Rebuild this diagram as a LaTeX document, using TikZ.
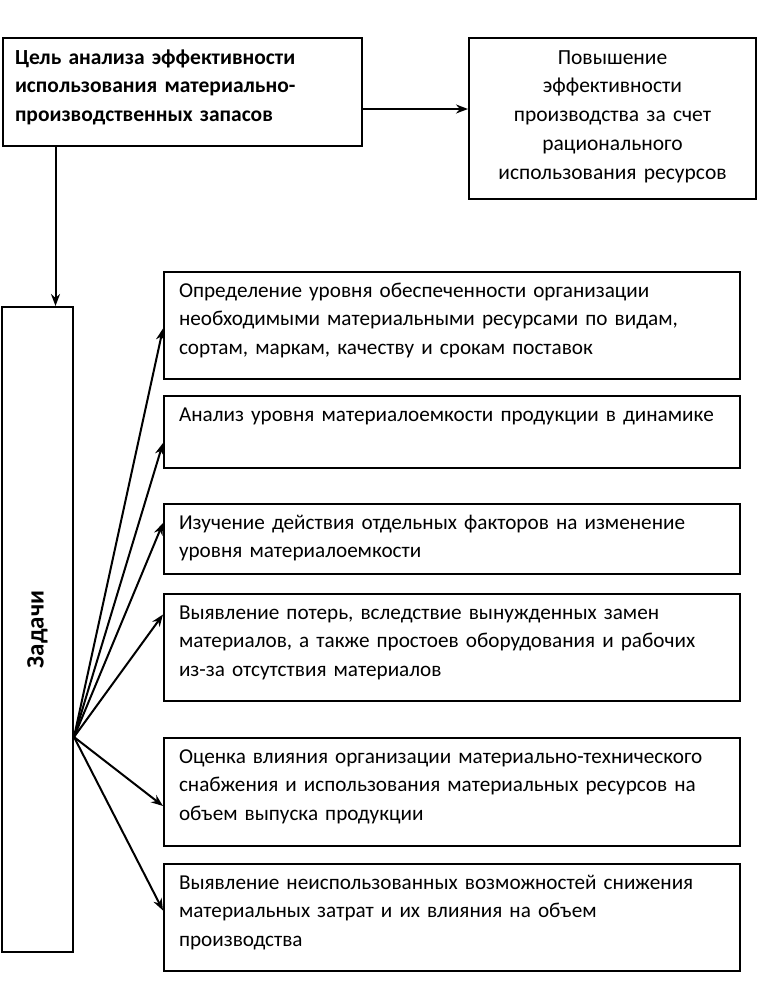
\documentclass[tikz,border=0pt]{standalone}
\usepackage{fontspec}
\setmainfont{Carlito}
\usetikzlibrary{positioning,arrows.meta}
\begin{document}
\begin{tikzpicture}[x=1pt,y=-1pt,
every node/.style={font=\fontsize{21.2}{28.3}\selectfont},
box/.style={draw,line width=2pt,inner sep=0pt},
taskbox/.style={box,anchor=north west,text width=546pt,inner xsep=15pt,align=left,text height=25.5pt},
-->/.style={-{Stealth[length=12pt,width=9pt]},line width=2pt},
]
\useasboundingbox (0,0) rectangle (774,988);

\node[box,anchor=north west,minimum width=359pt,text width=335pt,text height=26pt,text depth=82pt,align=left,font=\fontsize{21.5}{28.6}\selectfont\bfseries] (goal) at (2,37) {Цель анализа эффективности\\ использования материально-\\ производственных запасов};
\node[box,anchor=north west,minimum width=287pt,text width=270pt,text height=26pt,text depth=135pt,align=center,font=\fontsize{21.5}{28.8}\selectfont] (result) at (468,37) {Повышение\\ эффективности\\ производства за счет\\ рационального\\ использования ресурсов};
\node[box,minimum width=71pt,minimum height=645pt,font=\fontsize{25}{30}\selectfont\bfseries] (tasks) at (37.5,629.5) {\rotatebox{90}{Задачи}};

\node[taskbox,text depth=81.5pt] (t1) at (163,271) {Определение уровня обеспеченности организации\\ необходимыми материальными ресурсами по видам,\\ сортам, маркам, качеству и срокам поставок};
\node[taskbox,text depth=46.5pt] (t2) at (163,395) {Анализ уровня материалоемкости продукции в динамике};
\node[taskbox,text depth=44.5pt] (t3) at (163,503) {Изучение действия отдельных факторов на изменение\\ уровня материалоемкости};
\node[taskbox,text depth=81.5pt] (t4) at (163,593) {Выявление потерь, вследствие вынужденных замен\\ материалов, а также простоев оборудования и рабочих\\ из-за отсутствия материалов};
\node[taskbox,text depth=82.5pt] (t5) at (163,737) {Оценка влияния организации материально-технического\\ снабжения и использования материальных ресурсов на\\ объем выпуска продукции};
\node[taskbox,text depth=81.5pt] (t6) at (163,863) {Выявление неиспользованных возможностей снижения\\ материальных затрат и их влияния на объем\\ производства};

\draw[-->] ([yshift=-17pt]goal.east) -- ([yshift=-17pt]goal.east -| result.west);
\draw[-->] ([xshift=18pt]tasks.north |- goal.south) -- ([xshift=18pt]tasks.north);

\coordinate (hub) at ([yshift=-107.5pt]tasks.east);
\draw[-->] (hub) -- ([yshift=-3pt]t1.west);
\draw[-->] (hub) -- ([yshift=-11pt]t2.west);
\draw[-->] (hub) -- ([yshift=16pt]t3.west);
\draw[-->] (hub) -- ([yshift=33pt]t4.west);
\draw[-->] (hub) -- ([yshift=-14pt]t5.west);
\draw[-->] (hub) -- ([yshift=7pt]t6.west);

\end{tikzpicture}
\end{document}
